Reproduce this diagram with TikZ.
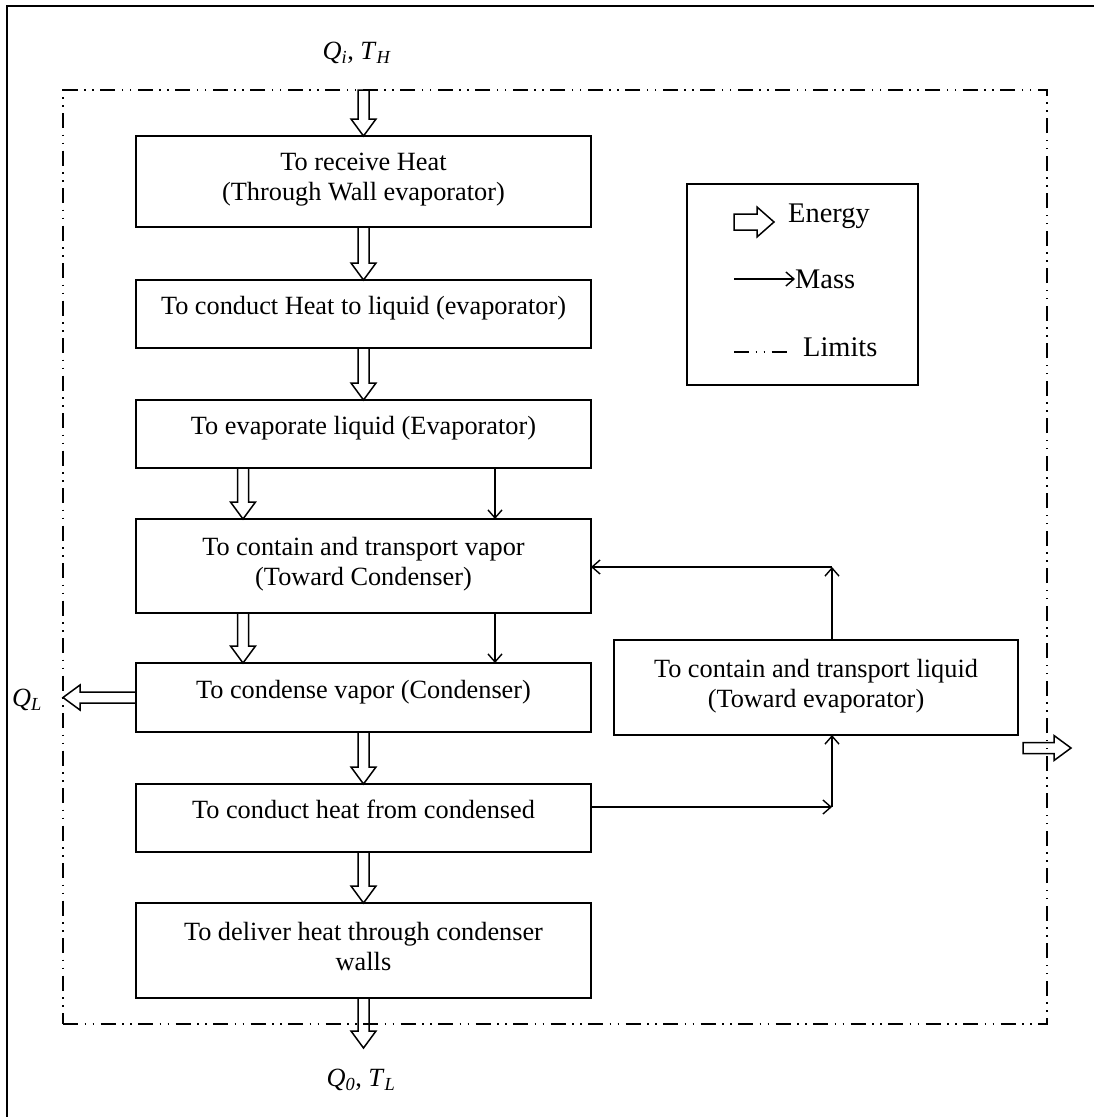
\documentclass[tikz,border=0pt]{standalone}
\usepackage{fontspec}
\setmainfont{Liberation Serif}
\usetikzlibrary{positioning,calc,arrows.meta}

\newcommand{\boxfont}{\fontsize{26.3}{30}\selectfont}
\newcommand{\legfont}{\fontsize{28.4}{32}\selectfont}
\newcommand{\qsub}[2]{\textit{#1}\textsubscript{\textit{#2}}}
% hollow block arrow from #2 to #3, #1 = half shaft width
\newcommand{\eflow}[3][5.5]{%
  \draw[energy] let \p1=#2, \p2=#3, \n1={atan2(\y2-\y1,\x2-\x1)}, \n2={veclen(\x2-\x1,\y2-\y1)} in
    [shift={(\p1)},rotate=\n1] (0,-#1) -- (\n2-17,-#1) -- (\n2-17,-#1-7) -- (\n2,0)
    -- (\n2-17,#1+7) -- (\n2-17,#1) -- (0,#1) -- cycle;}

\begin{document}
\begin{tikzpicture}[x=1pt,y=-1pt,
   box/.style={draw,line width=1.5pt,minimum width=455pt,inner sep=2pt,outer sep=0pt,align=center,font=\boxfont},
   sline/.style={text height=12pt,text depth=11pt},
   energy/.style={draw,line width=1.5pt,line join=miter},
   mass/.style={line width=1.4pt,-{Straight Barb[length=8pt,width=14pt]}},
   limits/.style={draw,line width=1.5pt,dash pattern=on 15pt off 6.5pt on 1.5pt off 6.5pt on 1.5pt off 6.5pt}]
   \useasboundingbox (0,0) rectangle (1094,1117);
   \draw[line width=2.5pt] (7,1130) -- (7,6) -- (1100,6);
   \node [limits,minimum width=984pt,minimum height=934pt,outer sep=0pt,anchor=north west] (lim) at (63,90) {};

   % main column
   \node [box,minimum height=91pt] (r1) at (363.5,181.5) {To receive Heat\\(Through Wall evaporator)\strut};
   \node [box,sline,minimum height=68pt,below=53pt of r1] (r2) {To conduct Heat to liquid (evaporator)};
   \node [box,sline,minimum height=68pt,below=52pt of r2] (r3) {To evaporate liquid (Evaporator)};
   \node [box,minimum height=94pt,below=51pt of r3] (r4) {To contain and transport vapor\\(Toward Condenser)\strut};
   \node [box,sline,minimum height=69pt,below=50pt of r4] (r5) {To condense vapor (Condenser)};
   \node [box,sline,minimum height=68pt,below=52pt of r5] (r6) {To conduct heat from condensed};
   \node [box,minimum height=95pt,below=51pt of r6] (r7) {To deliver heat through condenser\\walls\strut};
   \node [box,minimum width=404pt,minimum height=95pt] (ln) at (816,687.5) {To contain and transport liquid\\(Toward evaporator)\strut};

   % legend
   \node [draw,line width=1.5pt,minimum width=231pt,minimum height=201pt] (leg) at (802.5,284.5) {};
   \node [anchor=west,inner sep=0pt,font=\legfont] (len) at (788,216) {Energy};
   \node [anchor=west,inner sep=0pt,font=\legfont] (lms) at (795,279) {Mass};
   \node [anchor=west,inner sep=0pt,font=\legfont] (lli) at (803,347.5) {Limits};
   \coordinate (le) at (734,222);
   \coordinate (lm) at (734,279);
   \coordinate (ll) at (734,352);

   % labels
   \node [font=\boxfont] (qin) at (357,53) {\qsub{Q}{i}, \qsub{T}{H}};
   \node [font=\boxfont] (qout) at (361,1080) {\qsub{Q}{0}, \qsub{T}{L}};
   \node [font=\boxfont] (ql) at (27,700) {\qsub{Q}{L}};

   % energy
   \eflow{(r1.north |- lim.north)}{(r1.north)}
   \eflow{(r1.south)}{(r2.north)}
   \eflow{(r2.south)}{(r3.north)}
   \eflow{([xshift=-120.5pt]r3.south)}{([xshift=-120.5pt]r4.north)}
   \eflow{([xshift=-120.5pt]r4.south)}{([xshift=-120.5pt]r5.north)}
   \eflow{(r5.south)}{(r6.north)}
   \eflow{(r6.south)}{(r7.north)}
   \eflow{(r7.south)}{([yshift=-50pt]r7.south)}
   \eflow{(r5.west)}{(r5.west -| lim.west)}
   \coordinate (o1) at (1023,748);
   \coordinate (o2) at (1071,748);
   \eflow{(o1)}{(o2)}
   \eflow[8]{(le)}{([xshift=40pt]le)}

   % mass
   \coordinate (m1) at (832,807);
   \coordinate (m2) at (832,567);
   \draw[mass] ([xshift=131.5pt]r3.south) -- ([xshift=131.5pt]r4.north);
   \draw[mass] ([xshift=131.5pt]r4.south) -- ([xshift=131.5pt]r5.north);
   \draw[mass] (m1 -| r6.east) -- (m1);
   \draw[mass] (m1) -- (m1 |- ln.south);
   \draw[mass] (m2 |- ln.north) -- (m2);
   \draw[mass] (m2) -- (m2 -| r4.east);
   \draw[mass] (lm) -- (lms.west);
   \draw[limits] (ll) -- ([xshift=54pt]ll);
\end{tikzpicture}
\end{document}
